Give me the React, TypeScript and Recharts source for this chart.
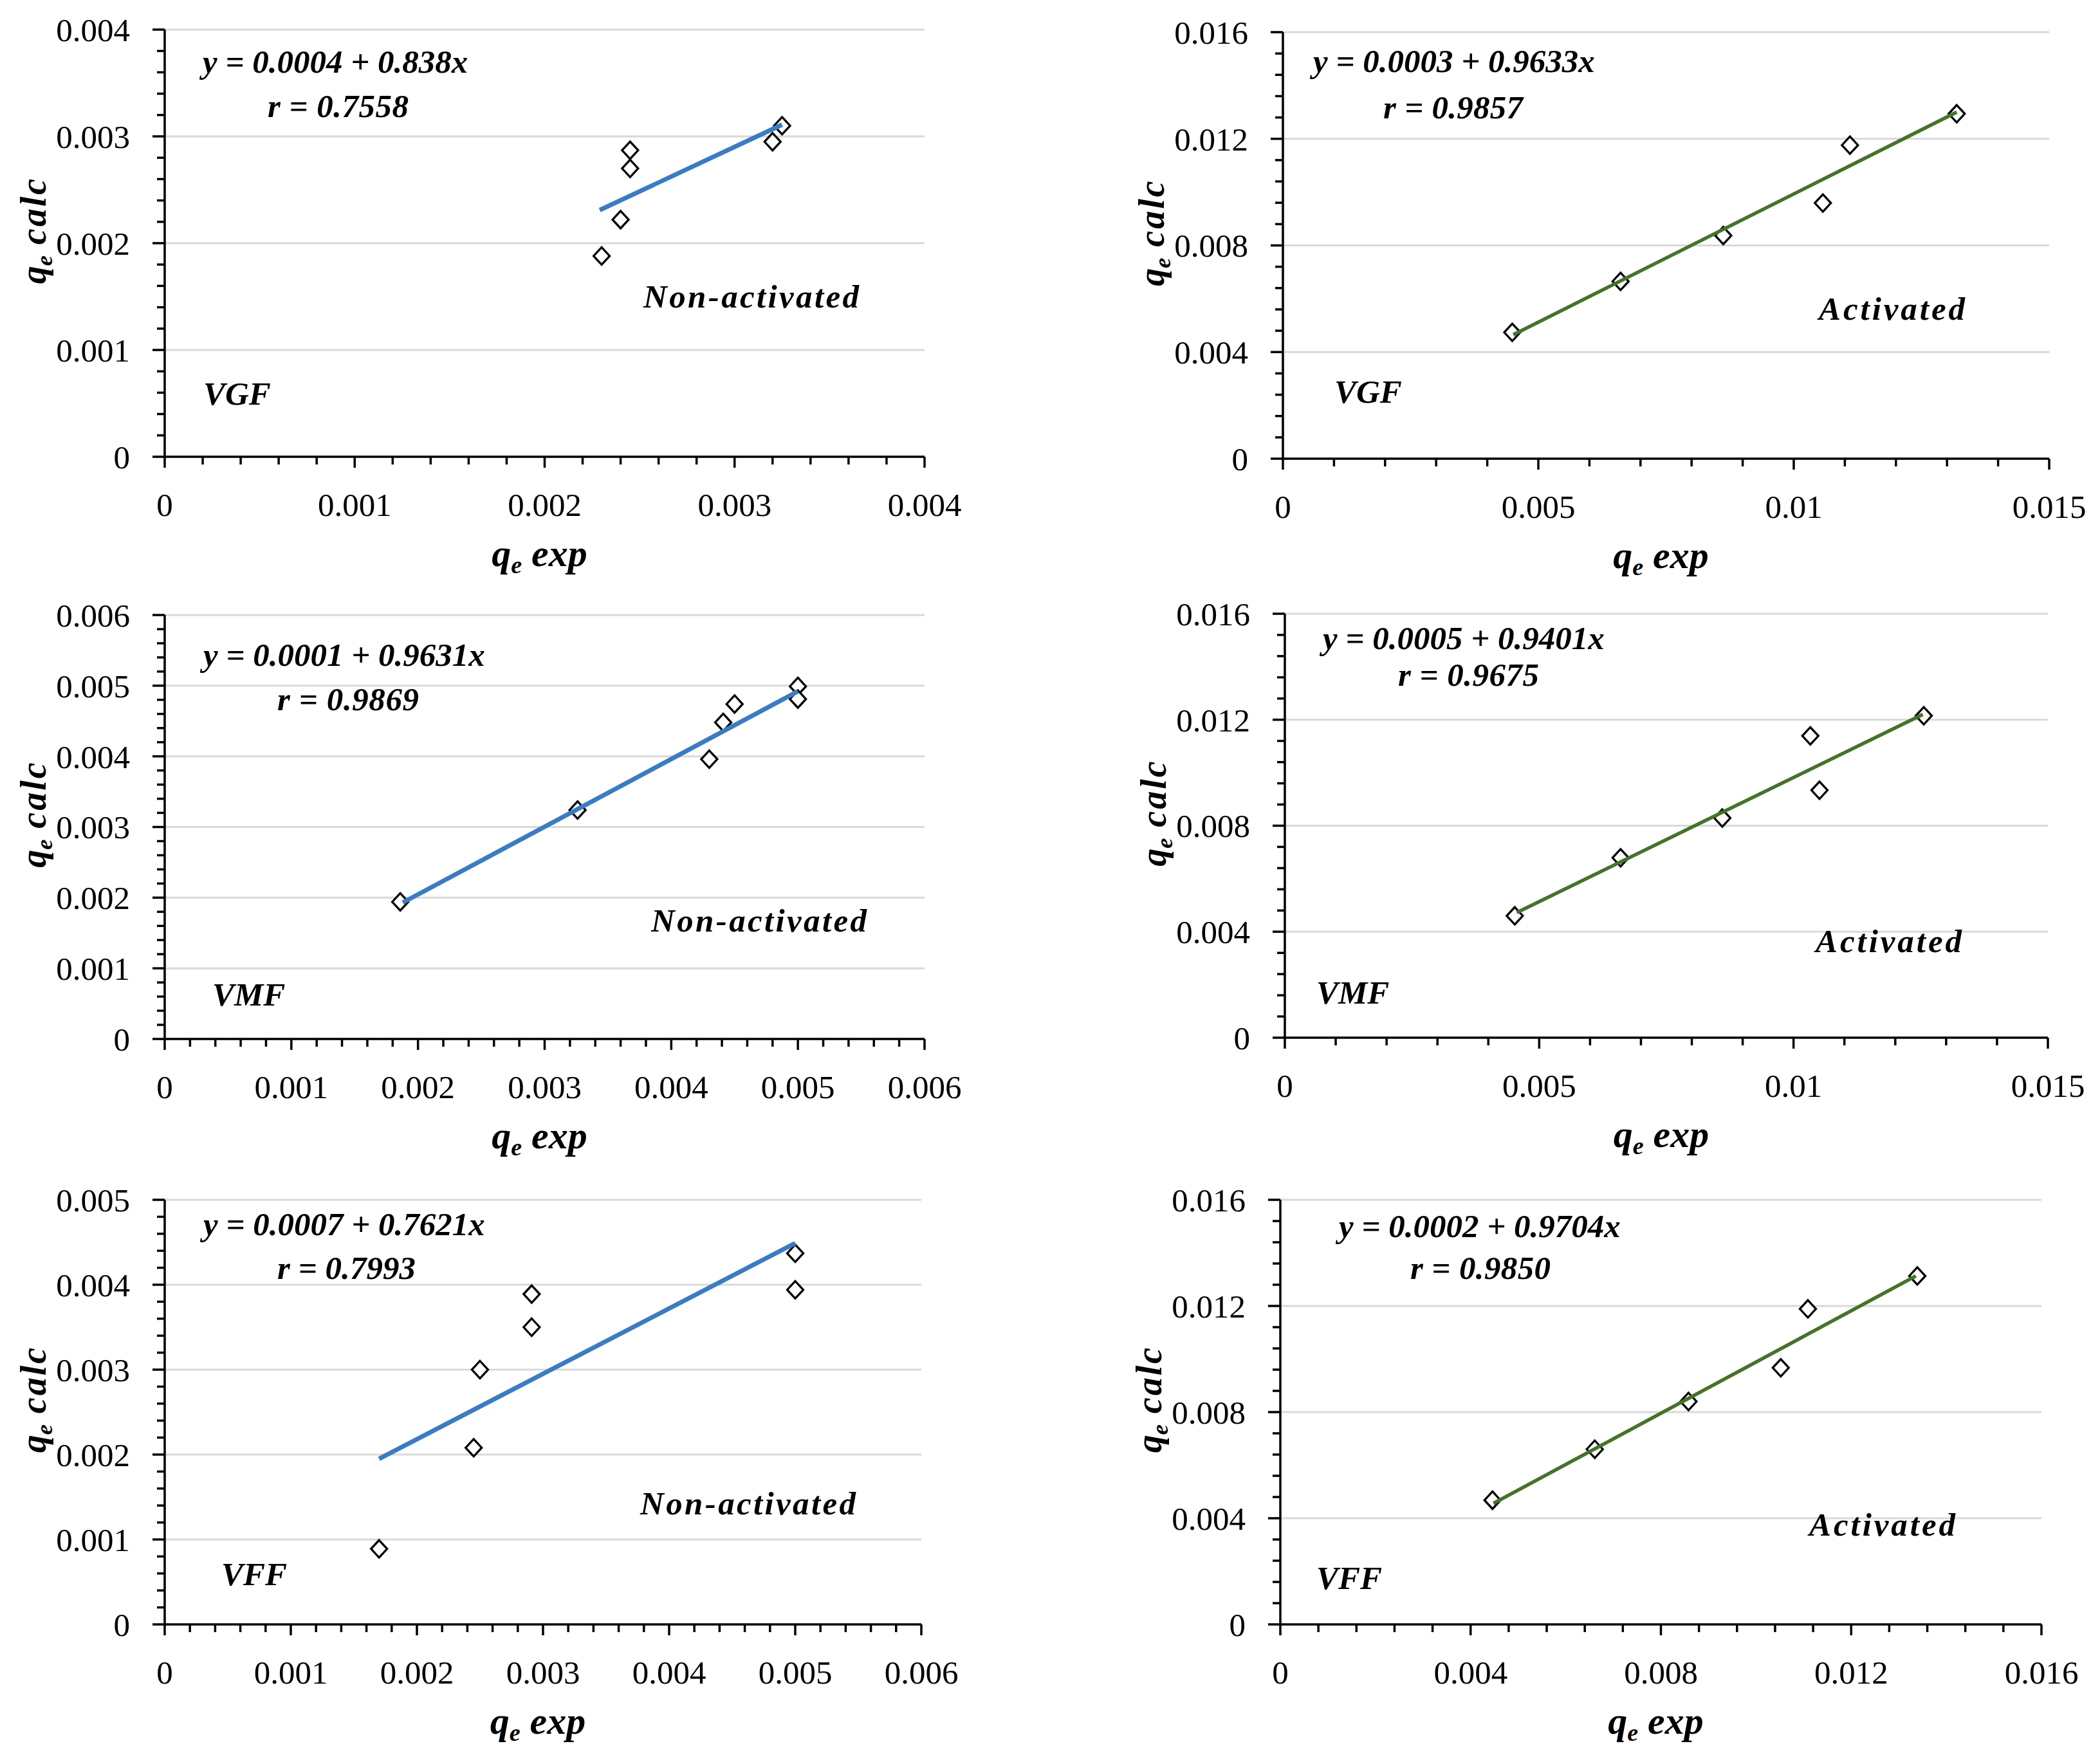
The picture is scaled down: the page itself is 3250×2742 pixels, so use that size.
import React from "react";
import { ScatterChart, Scatter, XAxis, YAxis, CartesianGrid } from "recharts";

const FONT = '"Liberation Serif", "Times New Roman", serif';
const BLUE = "#3b7cc1";
const GREEN = "#46722b";

// axis tick labels (major ticks)
const ticks4 = [0, 0.001, 0.002, 0.003, 0.004];
const ticks5 = [0, 0.001, 0.002, 0.003, 0.004, 0.005];
const ticks6 = [0, 0.001, 0.002, 0.003, 0.004, 0.005, 0.006];
const ticks15 = [0, 0.005, 0.01, 0.015];
const ticks16 = [0, 0.004, 0.008, 0.012, 0.016];

// VGF non-activated
const vgfNonX = [0.0023, 0.0024, 0.00245, 0.00245, 0.0032, 0.00325];
const vgfNonY = [0.00188, 0.00222, 0.0027, 0.00287, 0.00295, 0.0031];
const vgfNonFitX = [0.00229, 0.00325];
const vgfNonFitY = [0.00231, 0.00311];

// VGF activated
const vgfActX = [0.00449, 0.00661, 0.00862, 0.01057, 0.0111, 0.01319];
const vgfActY = [0.00474, 0.00665, 0.00837, 0.00959, 0.01176, 0.01294];
const vgfActFitX = [0.00451, 0.01319];
const vgfActFitY = [0.00465, 0.013];

// VMF non-activated
const vmfNonX = [0.00186, 0.00326, 0.0043, 0.00441, 0.0045, 0.005, 0.005];
const vmfNonY = [0.00194, 0.00324, 0.00396, 0.00448, 0.00474, 0.00499, 0.00481];
const vmfNonFitX = [0.00188, 0.005];
const vmfNonFitY = [0.00193, 0.00492];

// VMF activated
const vmfActX = [0.00452, 0.0066, 0.0086, 0.01033, 0.01051, 0.01256];
const vmfActY = [0.0046, 0.00679, 0.00829, 0.01139, 0.00934, 0.01215];
const vmfActFitX = [0.00456, 0.01254];
const vmfActFitY = [0.00472, 0.0122];

// VFF non-activated
const vffNonX = [0.0017, 0.00245, 0.0025, 0.00291, 0.00291, 0.005, 0.005];
const vffNonY = [0.00089, 0.00208, 0.003, 0.0035, 0.00389, 0.00394, 0.00437];
const vffNonFitX = [0.0017, 0.005];
const vffNonFitY = [0.00195, 0.00449];

// VFF activated
const vffActX = [0.00446, 0.00661, 0.00858, 0.01052, 0.01109, 0.01339];
const vffActY = [0.00468, 0.0066, 0.0084, 0.00967, 0.01189, 0.01313];
const vffActFitX = [0.00448, 0.01336];
const vffActFitY = [0.00456, 0.01313];

type Panel = {
  plot: [number, number, number, number];
  xMajor: number[];
  yMajor: number[];
  px: number[];
  py: number[];
  fx: number[];
  fy: number[];
  color: string;
  lineWidth: number;
  eq: string;
  r: string;
  tag: string;
  code: string;
  eqAt: [number, number];
  rAt: [number, number, number];
  tagAt: [number, number, number];
  codeAt: [number, number];
};

const panels: Panel[] = [
  {
    plot: [256, 46, 1437, 710], xMajor: ticks4, yMajor: ticks4,
    px: vgfNonX, py: vgfNonY, fx: vgfNonFitX, fy: vgfNonFitY, color: BLUE, lineWidth: 7,
    eq: "y = 0.0004 + 0.838x", r: "r = 0.7558", tag: "Non-activated", code: "VGF",
    eqAt: [315, 113], rAt: [416, 182, 219], tagAt: [1000, 478, 335], codeAt: [316, 629],
  },
  {
    plot: [1994, 50, 3185, 713], xMajor: ticks15, yMajor: ticks16,
    px: vgfActX, py: vgfActY, fx: vgfActFitX, fy: vgfActFitY, color: GREEN, lineWidth: 5.5,
    eq: "y = 0.0003 + 0.9633x", r: "r = 0.9857", tag: "Activated", code: "VGF",
    eqAt: [2041, 112], rAt: [2150, 184, 217], tagAt: [2827, 497, 227], codeAt: [2074, 626],
  },
  {
    plot: [256, 956, 1437, 1615], xMajor: ticks6, yMajor: ticks6,
    px: vmfNonX, py: vmfNonY, fx: vmfNonFitX, fy: vmfNonFitY, color: BLUE, lineWidth: 7,
    eq: "y = 0.0001 + 0.9631x", r: "r = 0.9869", tag: "Non-activated", code: "VMF",
    eqAt: [316, 1035], rAt: [431, 1104, 220], tagAt: [1012, 1448, 335], codeAt: [330, 1563],
  },
  {
    plot: [1997, 954, 3183, 1613], xMajor: ticks15, yMajor: ticks16,
    px: vmfActX, py: vmfActY, fx: vmfActFitX, fy: vmfActFitY, color: GREEN, lineWidth: 5.5,
    eq: "y = 0.0005 + 0.9401x", r: "r = 0.9675", tag: "Activated", code: "VMF",
    eqAt: [2056, 1009], rAt: [2173, 1066, 219], tagAt: [2822, 1480, 227], codeAt: [2046, 1560],
  },
  {
    plot: [256, 1865, 1432, 2525], xMajor: ticks6, yMajor: ticks5,
    px: vffNonX, py: vffNonY, fx: vffNonFitX, fy: vffNonFitY, color: BLUE, lineWidth: 7,
    eq: "y = 0.0007 + 0.7621x", r: "r = 0.7993", tag: "Non-activated", code: "VFF",
    eqAt: [316, 1920], rAt: [431, 1988, 215], tagAt: [995, 2354, 335], codeAt: [344, 2464],
  },
  {
    plot: [1990, 1865, 3173, 2525], xMajor: ticks16, yMajor: ticks16,
    px: vffActX, py: vffActY, fx: vffActFitX, fy: vffActFitY, color: GREEN, lineWidth: 5.5,
    eq: "y = 0.0002 + 0.9704x", r: "r = 0.9850", tag: "Activated", code: "VFF",
    eqAt: [2081, 1923], rAt: [2192, 1988, 218], tagAt: [2812, 2387, 227], codeAt: [2046, 2470],
  },
];

// major ticks plus 4 minor ticks between each pair
function withMinor(majors: number[]) {
  const out: number[] = [];
  for (let i = 0; i < majors.length - 1; i++) {
    const a = majors[i];
    const b = majors[i + 1];
    out.push(a);
    for (let k = 1; k < 5; k++) out.push(a + ((b - a) * k) / 5);
  }
  out.push(majors[majors.length - 1]);
  return out;
}

function XTick(props: any) {
  const { x, y, payload, majors } = props;
  const major = majors.includes(payload.value);
  return (
    <g>
      <line x1={x} y1={y} x2={x} y2={y + (major ? 17 : 12)} stroke="#000" strokeWidth={3.5} />
      {major && (
        <text x={x} y={y + 92} textAnchor="middle" fontSize={51} fontFamily={FONT} fill="#000">
          {String(payload.value)}
        </text>
      )}
    </g>
  );
}

function YTick(props: any) {
  const { x, y, payload, majors } = props;
  const major = majors.includes(payload.value);
  return (
    <g>
      <line x1={x - (major ? 19 : 12)} y1={y} x2={x} y2={y} stroke="#000" strokeWidth={3.5} />
      {major && (
        <text x={x - 54} y={y} dy="0.35em" textAnchor="end" fontSize={51} fontFamily={FONT} fill="#000">
          {String(payload.value)}
        </text>
      )}
    </g>
  );
}

function Diamond(props: any) {
  const { cx, cy } = props;
  const w = 12.5;
  const h = 13.5;
  return (
    <path
      d={`M${cx},${cy - h} L${cx + w},${cy} L${cx},${cy + h} L${cx - w},${cy} Z`}
      fill="#fff"
      stroke="#000"
      strokeWidth={3.3}
    />
  );
}

const Nothing = () => <g />;

function PanelChart({ p }: { p: Panel }) {
  const [L, T0, R0, B0] = p.plot;
  const YW = 260;
  const TM = 50;
  const RM = 80;
  const XH = 220;
  const plotW = R0 - L;
  const plotH = B0 - T0;
  const w = plotW + YW + RM;
  const h = plotH + TM + XH;
  const left = L - YW;
  const top = T0 - TM;
  const lx = (x: number) => x - left;
  const ly = (y: number) => y - top;
  const pts = p.px.map((x, i) => ({ x, y: p.py[i] }));
  const fit = p.fx.map((x, i) => ({ x, y: p.fy[i] }));
  const note = { fontFamily: FONT, fontSize: 51, fontWeight: "bold", fontStyle: "italic", fill: "#000" } as const;
  const xDom = [p.xMajor[0], p.xMajor[p.xMajor.length - 1]];
  const yDom = [p.yMajor[0], p.yMajor[p.yMajor.length - 1]];

  return (
    <div style={{ position: "absolute", left, top }}>
      <ScatterChart width={w} height={h} margin={{ top: TM, right: RM, left: 0, bottom: 0 }}>
        <CartesianGrid vertical={false} horizontalValues={p.yMajor.slice(1)} stroke="#d9d9d9" strokeWidth={3} />
        <XAxis
          type="number"
          dataKey="x"
          domain={xDom}
          ticks={withMinor(p.xMajor)}
          interval={0}
          tickSize={0}
          tickMargin={0}
          tickLine={false}
          height={XH}
          axisLine={{ stroke: "#000", strokeWidth: 3.5 }}
          tick={(t: any) => <XTick {...t} majors={p.xMajor} />}
        />
        <YAxis
          type="number"
          dataKey="y"
          domain={yDom}
          ticks={withMinor(p.yMajor)}
          interval={0}
          tickSize={0}
          tickMargin={0}
          tickLine={false}
          width={YW}
          axisLine={{ stroke: "#000", strokeWidth: 3.5 }}
          tick={(t: any) => <YTick {...t} majors={p.yMajor} />}
        />
        <Scatter data={pts} shape={Diamond} isAnimationActive={false} />
        <Scatter
          data={fit}
          shape={Nothing}
          line={{ stroke: p.color, strokeWidth: p.lineWidth }}
          isAnimationActive={false}
        />
        <g>
          <text x={lx(p.eqAt[0])} y={ly(p.eqAt[1])} {...note}>{p.eq}</text>
          <text x={lx(p.rAt[0])} y={ly(p.rAt[1])} textLength={p.rAt[2]} {...note}>{p.r}</text>
          <text x={lx(p.tagAt[0])} y={ly(p.tagAt[1])} textLength={p.tagAt[2]} {...note}>{p.tag}</text>
          <text x={lx(p.codeAt[0])} y={ly(p.codeAt[1])} {...note}>{p.code}</text>
          <text x={YW + plotW / 2 - 8} y={TM + plotH + 170} textAnchor="middle" {...note} fontSize={60}>
            <tspan>q</tspan>
            <tspan fontSize={38} dy={11}>e</tspan>
            <tspan dy={-11}> exp</tspan>
          </text>
          <text
            transform={`translate(${YW - 185},${TM + plotH / 2 - 20}) rotate(-90)`}
            textAnchor="middle"
            {...note}
            fontSize={56}
          >
            <tspan>q</tspan>
            <tspan fontSize={36} dy={10}>e</tspan>
            <tspan dy={-10} letterSpacing={3}> calc</tspan>
          </text>
        </g>
      </ScatterChart>
    </div>
  );
}

export default function App() {
  return (
    <div style={{ position: "absolute", left: 0, top: 0, width: 3250, height: 2742, background: "#fff" }}>
      {panels.map((p, i) => (
        <PanelChart key={i} p={p} />
      ))}
    </div>
  );
}
